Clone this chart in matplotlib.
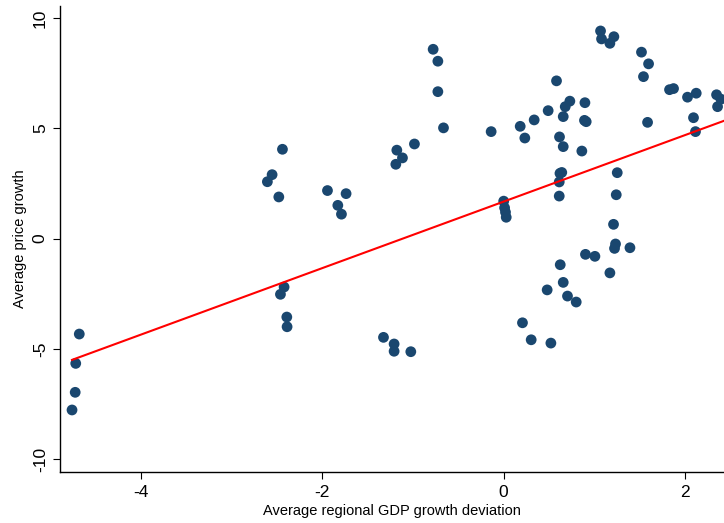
import numpy as np
import matplotlib.pyplot as plt

# ---------------------------------------------------------------
# data
# ---------------------------------------------------------------
gdp_dev = [
    -4.675, -4.714, -4.720, -4.755,
    -2.437, -2.551, -2.603, -2.477, -1.941, -1.736, -1.827, -1.787,
    -2.419, -2.459, -2.389, -2.386,
    -1.324, -1.207, -1.207, -1.023,
    -0.777, -0.725, -0.725, -0.663,
    -1.177, -1.115, -1.188, -0.983, -0.138,
    0.000, 0.010, 0.020, 0.028,
    1.067, 1.078, 1.214, 1.170, 0.582, 0.729, 0.678, 0.895, 0.490, 0.656,
    0.336, 0.182, 0.909, 0.890, 0.233, 0.615, 0.656, 0.861,
    0.620, 0.640, 0.612, 0.612, 1.251, 1.240, 1.210, 1.232, 1.221, 1.391,
    0.901, 1.005, 1.170, 0.623, 0.656, 0.479, 0.703, 0.799, 0.207, 0.303, 0.520,
    1.518, 1.596, 1.540, 1.827, 1.871, 2.025, 2.121, 2.345, 2.393, 2.356,
    1.585, 2.091, 2.113,
]
price_growth = [
    -4.32, -5.65, -6.96, -7.76,
    4.05, 2.90, 2.58, 1.89, 2.18, 2.04, 1.51, 1.11,
    -2.19, -2.52, -3.55, -3.99,
    -4.47, -4.77, -5.10, -5.12,
    8.58, 8.04, 6.66, 5.02,
    4.01, 3.66, 3.37, 4.29, 4.85,
    1.70, 1.40, 1.20, 0.97,
    9.41, 9.05, 9.15, 8.85, 7.15, 6.23, 5.98, 6.16, 5.80, 5.53,
    5.38, 5.09, 5.30, 5.36, 4.56, 4.61, 4.17, 3.97,
    2.96, 3.00, 2.57, 1.93, 2.99, 1.99, 0.65, -0.24, -0.44, -0.41,
    -0.71, -0.80, -1.55, -1.18, -1.98, -2.32, -2.60, -2.87, -3.81, -4.58, -4.73,
    8.45, 7.92, 7.34, 6.75, 6.80, 6.41, 6.59, 6.52, 6.32, 5.98,
    5.27, 5.48, 4.85,
]

# fitted line
fit_slope = 1.508
fit_intercept = 1.68

x_ticks = [-4, -2, 0, 2]
y_ticks = [-10, -5, 0, 5, 10]

# ---------------------------------------------------------------
# plot
# ---------------------------------------------------------------
plt.rcParams['font.family'] = ['Liberation Sans', 'DejaVu Sans']
plt.rcParams['axes.unicode_minus'] = False

fig = plt.figure(figsize=(7.24, 5.23), dpi=100)
ax = fig.add_axes([0.0833, 0.0975, 0.9167, 0.891])

ax.scatter(gdp_dev, price_growth, s=60, color='#1a476f', edgecolors='none', zorder=3)

xmin, xmax = -4.884, 2.427
xs = np.array([min(gdp_dev), xmax + 0.1])
ax.plot(xs, fit_intercept + fit_slope * xs, color='#ff0000', lw=1.5, zorder=4)

ax.set_xlim(xmin, xmax)
ax.set_ylim(-10.57, 10.54)
ax.set_xticks(x_ticks)
ax.set_yticks(y_ticks)
ax.set_yticklabels([str(v) for v in y_ticks], rotation=90, va='center')

for s in ['top', 'right']:
    ax.spines[s].set_visible(False)
for s in ['left', 'bottom']:
    ax.spines[s].set_linewidth(1.0)

ax.tick_params(axis='both', direction='out', length=5, width=0.8, labelsize=12.5, pad=4)

ax.set_xlabel('Average regional GDP growth deviation', fontsize=10.5, labelpad=3)
ax.set_ylabel('Average price growth', fontsize=10.5, labelpad=4)

plt.savefig('out.png', dpi=100)
